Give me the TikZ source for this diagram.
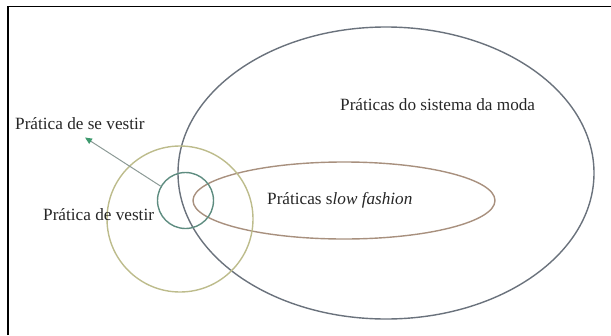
\documentclass[tikz,border=0pt]{standalone}
\usepackage{fontspec}
\setmainfont{Liberation Serif}
\usetikzlibrary{arrows.meta,shapes.geometric}
\definecolor{bigc}{HTML}{6A727C}
\definecolor{slowc}{HTML}{A8907E}
\definecolor{olivec}{HTML}{BDBC8C}
\definecolor{tealc}{HTML}{5E8C80}
\definecolor{arrc}{HTML}{8C9A96}
\definecolor{tipc}{HTML}{3E9A6E}
\begin{document}
\begin{tikzpicture}[x=1pt,y=-1pt,
  lab/.style={font=\fontsize{17.2}{20}\selectfont, inner sep=0pt, text=black!85},
  ring/.style={line width=1.4pt}]
\useasboundingbox (0,0) rectangle (611,335);
\draw[line width=1.2pt] (8,335) -- (8,6.5) -- (611,6.5);
% shapes
\node[ring, draw=bigc, ellipse, minimum width=416pt, minimum height=292pt, inner sep=0pt] (sys) at (386,173) {};
\node[ring, draw=slowc, ellipse, minimum width=302pt, minimum height=77pt, inner sep=0pt] (slow) at (344,200.5) {};
\node[ring, draw=olivec, circle, minimum size=146pt, inner sep=0pt] (vest) at (180,219) {};
\node[ring, draw=tealc, circle, minimum size=56pt, inner sep=0pt] (se) at (185.5,200.5) {};
% labels
\node[lab, anchor=west] (tsys) at (340,105) {Práticas do sistema da moda};
\node[lab, anchor=west] (tslow) at (267,200) {Práticas s\textit{low fashion}};
\node[lab, anchor=west] (tvest) at (43,215) {Prática de vestir};
\node[lab, anchor=west] (tse) at (15,124) {Prática de se vestir};
\coordinate (atip) at (85,137.5);
\draw[line width=1pt, arrc, -{Triangle[length=7pt,width=6pt,fill=tipc,color=tipc]}] (se.150) -- (atip);
\end{tikzpicture}
\end{document}
